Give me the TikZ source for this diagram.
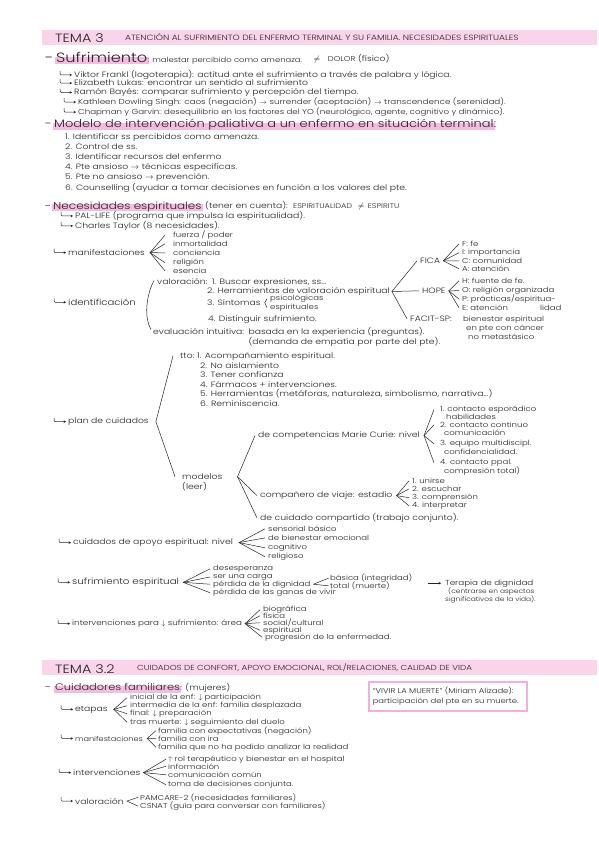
\documentclass[tikz,border=0pt]{standalone}
\usepackage{fontspec}
\setmainfont{Poppins Light}[FakeStretch=1.2]
\usetikzlibrary{calc,positioning,arrows.meta,backgrounds}
\definecolor{ink}{RGB}{35,35,35}
\definecolor{bandpink}{RGB}{250,212,234}
\definecolor{markpink}{RGB}{246,188,224}
\definecolor{boxpink}{RGB}{242,176,222}
\tikzset{
  note/.style={anchor=base west, inner sep=0pt, text=ink, font=\fontsize{7.7}{8}\selectfont},
  notesm/.style={note, font=\fontsize{7.1}{7.5}\selectfont},
  capsline/.style={note, font=\fontsize{7.6}{8}\selectfont},
  subhead/.style={note, font=\fontsize{10.8}{12}\selectfont},
  heading/.style={note, font=\fontsize{10}{11}\selectfont},
  temaname/.style={note, font=\fontsize{12}{13}\selectfont},
  branch/.style={draw=ink, line width=0.5pt, line cap=round},
  hookarrow/.style={draw=ink, line width=0.5pt, rounded corners=1.2pt, -{Stealth[length=2.4pt,width=2.6pt]}},
  arr/.style={draw=ink, line width=0.5pt, -{Stealth[length=2.4pt,width=2.6pt]}},
  hilite/.style={fill=markpink},
}
\newcommand{\fanto}[4]{%
  \foreach \kid in {#4}{\draw[branch] ($(#1.east)+(#2,0)$) -- ($(\kid.west)+(-#3,0)$);}}

\begin{document}
\begin{tikzpicture}[x=1pt, y=-1pt]
\begin{scope}[on background layer]
  \fill[white] (0,0) rectangle (599,848);
\end{scope}
\useasboundingbox (0,0) rectangle (599,848);

% TEMA 3
\fill[bandpink] (42,30) rectangle (597,45);
\node[temaname] (tema1) at (55,43) {TEMA 3};
\node[capsline] (sub1) at (125,40.5) {ATENCIÓN AL SUFRIMIENTO DEL ENFERMO TERMINAL Y SU FAMILIA. NECESIDADES ESPIRITUALES};

\node[heading, font=\fontsize{13.5}{14}\selectfont] (dash1) at (45,62.5) {-};
\node[heading, font=\fontsize{13.5}{14}\selectfont] (sufr) at (56,62.5) {Sufrimiento};
\node[note, font=\fontsize{7}{8}\selectfont] (sufrdef) at (sufr.base east) {: malestar percibido como amenaza.};
\node[note] (dolor) at ($(sufrdef.base east)+(11,-1)$) {$\neq$\quad{\fontsize{7}{7}\selectfont DOLOR} (físico)};
\node[note] (frankl) at (74,77.5) {Viktor Frankl (logoterapia): actitud ante el sufrimiento a través de palabra y lógica.};
\node[note] (lukas) at (74,86) {Elizabeth Lukas: encontrar un sentido al sufrimiento};
\node[note] (bayes) at (74,94.5) {Ramón Bayés: comparar sufrimiento y percepción del tiempo.};
\node[note, font=\fontsize{7.3}{8}\selectfont] (singh) at (78,104.5) {Kathleen Dowling Singh: caos (negación) $\rightarrow$ surrender (aceptación) $\rightarrow$ transcendence (serenidad).};
\node[note, font=\fontsize{7.2}{8}\selectfont] (chapman) at (78,114.5) {Chapman y Garvin: desequilibrio en los factores del YO (neurológico, agente, cognitivo y dinámico).};

\node[subhead] (dash2) at (45,128) {-};
\node[subhead] (modelo) at (54,128) {Modelo de intervención paliativa a un enfermo en situación terminal};
\node[subhead] at (modelo.base east) {:};
\node[note] (item1) at (65,139.5) {1. Identificar ss percibidos como amenaza.};
\node[note] (item2) at (65,149.5) {2. Control de ss.};
\node[note] (item3) at (65,159.5) {3. Identificar recursos del enfermo};
\node[note] (item4) at (65,169.5) {4. Pte ansioso $\rightarrow$ técnicas específicas.};
\node[note] (item5) at (65,179.5) {5. Pte no ansioso $\rightarrow$ prevención.};
\node[note] (item6) at (65,190.5) {6. Counselling (ayudar a tomar decisiones en función a los valores del pte.};

\node[heading] (dash3) at (45,209) {-};
\node[heading] (neces) at (53,209) {Necesidades espirituales};
\node[note] (tener) at (205,208) {(tener en cuenta):};
\node[capsline, font=\fontsize{6.8}{7}\selectfont] (espir) at (293,208) {ESPIRITUALIDAD \enspace{\fontsize{8}{8}\selectfont$\neq$}\enspace ESPIRITU};
\node[note] (pal) at (75,218.5) {PAL-LIFE (programa que impulsa la espiritualidad).};
\node[note] (taylor) at (75,228.5) {Charles Taylor (8 necesidades).};

\node[note] (manif) at (68,255.5) {manifestaciones};
\node[notesm] (fuerza) at (173,237.5) {fuerza / poder};
\node[notesm] (inmort) at (173,246.5) {inmortalidad};
\node[notesm] (concien) at (173,255.5) {conciencia};
\node[notesm] (relig) at (173,264.5) {religión};
\node[notesm] (esencia) at (173,273.5) {esencia};
\fanto{manif}{5}{8}{fuerza,inmort,concien,relig,esencia}

\node[note, font=\fontsize{8.4}{9}\selectfont] (ident) at (68,305.5) {identificación};
\node[note] (val) at (157,284.5) {valoración:};
\node[note] (b1) at ($(val.base east)+(4,0)$) {1. Buscar expresiones, ss...};
\node[note] (b2) at (207,293.5) {2. Herramientas de valoración espiritual};
\node[note] (b3) at (207,305.5) {3. Síntomas};
\node[notesm] (psico) at (270,300.5) {psicológicas};
\node[notesm] (espi) at (270,309.5) {espirituales};
\fanto{b3}{4}{3}{psico,espi}
\node[note] (b4) at (208,321.5) {4. Distinguir sufrimiento.};
\node[note] (evalint) at (153,334.5) {evaluación intuitiva:};
\node[note] (basada) at ($(evalint.base east)+(4,0)$) {basada en la experiencia (preguntas).};
\node[note] (demanda) at ($(basada.base west)+(0,9.5)$) {(demanda de empatía por parte del pte).};
\draw[branch] ($(val.west)+(-3,-1)$) .. controls ($(val.west)+(-11,14)$) and ($(evalint.west)+(-9,-14)$) .. ($(evalint.west)+(-2,-2)$);

\node[note] (fica) at (420,263.5) {FICA};
\node[notesm] (ficaf) at (462,246.5) {F: fe};
\node[notesm] (ficai) at (462,254.5) {I: importancia};
\node[notesm] (ficac) at (462,263.5) {C: comunidad};
\node[notesm] (ficaa) at (462,271.5) {A: atención};
\fanto{fica}{3}{3}{ficaf,ficai,ficac,ficaa}
\node[note] (hope) at (422,293.5) {HOPE};
\node[notesm] (hopeh) at (462,283.5) {H: fuente de fe.};
\node[notesm] (hopeo) at (462,292.5) {O: religión organizada};
\node[notesm] (hopep) at (462,301.5) {P: prácticas/espiritua-};
\node[notesm] (hopee) at (462,310.5) {E: atención};
\node[notesm] (lidad) at (540,310.5) {lidad};
\fanto{hope}{3}{3}{hopeh,hopeo,hopep,hopee}
\node[note] (facit) at (410,321.5) {FACIT-SP:};
\node[notesm] (facitb) at (463,321.5) {bienestar espiritual};
\node[notesm] (facitc) at (466,330.5) {en pte con cáncer};
\node[notesm] (facitn) at (468,339.5) {no metastásico};
\fanto{b2}{2}{3}{fica,hope,facit}

\node[note] (plan) at (68,423.5) {plan de cuidados};
\node[note] (tto) at (180,358.5) {tto:};
\node[note] (pc1) at (197,358.5) {1. Acompañamiento espiritual.};
\node[note] (pc2) at (200,368) {2. No aislamiento};
\node[note] (pc3) at (200,377.5) {3. Tener confianza};
\node[note] (pc4) at (200,387) {4. Fármacos + intervenciones.};
\node[note] (pc5) at (200,396.5) {5. Herramientas (metáforas, naturaleza, simbolismo, narrativa...)};
\node[note] (pc6) at (200,406) {6. Reminiscencia.};
\node[note] (modelos) at (182,479.5) {modelos};
\node[note] (leer) at (182,489.5) {(leer)};
\fanto{plan}{7}{7}{tto,modelos}

\node[note] (compet) at (258,437.5) {de competencias Marie Curie: nivel};
\node[notesm] (c1) at (440,411.5) {1. contacto esporádico};
\node[notesm] (c1b) at (446,419.5) {habilidades};
\node[notesm] (c2) at (440,427.5) {2. contacto continuo};
\node[notesm] (c2b) at (444,435.5) {comunicación};
\node[notesm] (c3) at (440,445.5) {3. equipo multidiscipl.};
\node[notesm] (c3b) at (444,454.5) {confidencialidad.};
\node[notesm] (c4) at (440,464.5) {4. contacto ppal.};
\node[notesm] (c4b) at (444,473.5) {compresión total)};
\fanto{compet}{4}{6}{c1,c2,c3,c4}
\node[note] (compa) at (260,497.5) {compañero de viaje: estadio};
\node[notesm] (v1) at (412,483.5) {1. unirse};
\node[notesm] (v2) at (412,491.5) {2. escuchar};
\node[notesm] (v3) at (412,499.5) {3. comprensión};
\node[notesm] (v4) at (412,507.5) {4. interpretar};
\fanto{compa}{4}{3}{v1,v2,v3,v4}
\node[note] (compart) at (260,520.5) {de cuidado compartido (trabajo conjunto).};
\fanto{modelos}{15}{3}{compet,compa,compart}

\node[note] (apoyo) at (73,544.5) {cuidados de apoyo espiritual: nivel};
\node[notesm] (ap1) at (268,531.5) {sensorial básico};
\node[notesm] (ap2) at (268,540.5) {de bienestar emocional};
\node[notesm] (ap3) at (268,549.5) {cognitivo};
\node[notesm] (ap4) at (268,558.5) {religioso};
\fanto{apoyo}{6}{3}{ap1,ap2,ap3,ap4}

\node[note, font=\fontsize{8.6}{9}\selectfont] (sufesp) at (72,584.5) {sufrimiento espiritual};
\node[notesm] (se1) at (213,570.5) {desesperanza};
\node[notesm] (se2) at (213,578) {ser una carga};
\node[notesm] (se3) at (213,586) {pérdida de la dignidad};
\node[notesm] (se4) at (213,594.5) {pérdida de las ganas de vivir};
\fanto{sufesp}{4}{3}{se1,se2,se3,se4}
\node[notesm] (basica) at (330,580.5) {básica (integridad)};
\node[notesm] (total) at (330,588.5) {total (muerte)};
\fanto{se3}{3}{1.5}{basica,total}
\node[note, font=\fontsize{7.3}{8}\selectfont] (terapia) at (445,585) {Terapia de dignidad};
\node[notesm, font=\fontsize{6.2}{7}\selectfont] (centrarse) at (448,593.5) {(centrarse en aspectos};
\node[notesm, font=\fontsize{6.2}{7}\selectfont] (signif) at (445,601) {significativos de la vida).};
\coordinate (dignarrow) at ($(terapia.west)+(-17,0)$);
\draw[arr] (dignarrow) -- ($(terapia.west)+(-4,0)$);

\node[note, font=\fontsize{7.3}{8}\selectfont] (inter) at (72,625.5) {intervenciones para $\downarrow$ sufrimiento: área};
\node[notesm] (ia1) at (263,611.5) {biográfica};
\node[notesm] (ia2) at (263,618.5) {física};
\node[notesm] (ia3) at (263,625.5) {social/cultural};
\node[notesm] (ia4) at (263,632) {espiritual};
\node[notesm] (ia5) at (265,639) {progresión de la enfermedad.};
\fanto{inter}{3}{3}{ia1,ia2,ia3,ia4,ia5}

% TEMA 3.2
\fill[bandpink] (42,660) rectangle (597,675);
\node[temaname] (tema2) at (55,673) {TEMA 3.2};
\node[capsline, font=\fontsize{7.3}{8}\selectfont] (sub2) at (137,670.5) {CUIDADOS DE CONFORT, APOYO EMOCIONAL, ROL/RELACIONES, CALIDAD DE VIDA};

\node[heading, font=\fontsize{9.5}{10}\selectfont] (dash4) at (45,690.5) {-};
\node[heading, font=\fontsize{9.5}{10}\selectfont] (cuid) at (55,690.5) {Cuidadores familiares};
\node[note] (mujeres) at (cuid.base east) {: (mujeres)};
\node[draw=boxpink, line width=1.6pt, anchor=north west, inner xsep=4pt, text width=150pt,
      minimum height=29pt, align=left, text=ink, font=\fontsize{7}{9.5}\selectfont] (vivir) at (368,681)
      {``VIVIR LA MUERTE'' (Miriam Alizade):\\participación del pte en su muerte.};

\node[note] (etapas) at (75,711) {etapas};
\node[notesm] (et1) at (130,699.5) {inicial de la enf: $\downarrow$ participación};
\node[notesm] (et2) at (130,707.5) {intermedia de la enf: familia desplazada};
\node[notesm] (et3) at (130,715.5) {final: $\downarrow$ preparación};
\node[notesm] (et4) at (130,724) {tras muerte: $\downarrow$ seguimiento del duelo};
\fanto{etapas}{6}{3}{et1,et2,et3,et4}

\node[note, font=\fontsize{6.8}{7}\selectfont] (manif2) at (75,741) {manifestaciones};
\node[notesm] (mf1) at (158,733) {familia con expectativas (negación)};
\node[notesm] (mf2) at (158,741) {familia con ira};
\node[notesm] (mf3) at (158,749) {familia que no ha podido analizar la realidad};
\fanto{manif2}{4}{2}{mf1,mf2,mf3}

\node[note] (inter2) at (73,775.5) {intervenciones};
\node[notesm] (in1) at (168,761) {$\uparrow$ rol terapéutico y bienestar en el hospital};
\node[notesm] (in2) at (168,769) {información};
\node[notesm] (in3) at (168,777.5) {comunicación común};
\node[notesm] (in4) at (168,786.5) {toma de decisiones conjunta.};
\fanto{inter2}{3}{2}{in1,in2,in3,in4}

\node[note] (valor2) at (75,804) {valoración};
\node[notesm] (vl1) at (140,800) {PAMCARE-2 (necesidades familiares)};
\node[notesm] (vl2) at (140,808.5) {CSNAT (guía para conversar con familiares)};
\fanto{valor2}{3}{2}{vl1,vl2}

\foreach \n in {frankl,lukas,bayes,singh,chapman,pal,taylor,manif,ident,plan,apoyo,sufesp,inter,etapas,manif2,inter2,valor2}
  \draw[hookarrow] ($(\n.west)+(-14,-4)$) |- ($(\n.west)+(-2,0)$);

\begin{scope}[on background layer]
  \foreach \h in {sufr,modelo,neces,cuid}
    \fill[hilite] ($(\h.base west)+(-1,-5)$) rectangle ($(\h.base east)+(1,2)$);
\end{scope}
\end{tikzpicture}
\end{document}
